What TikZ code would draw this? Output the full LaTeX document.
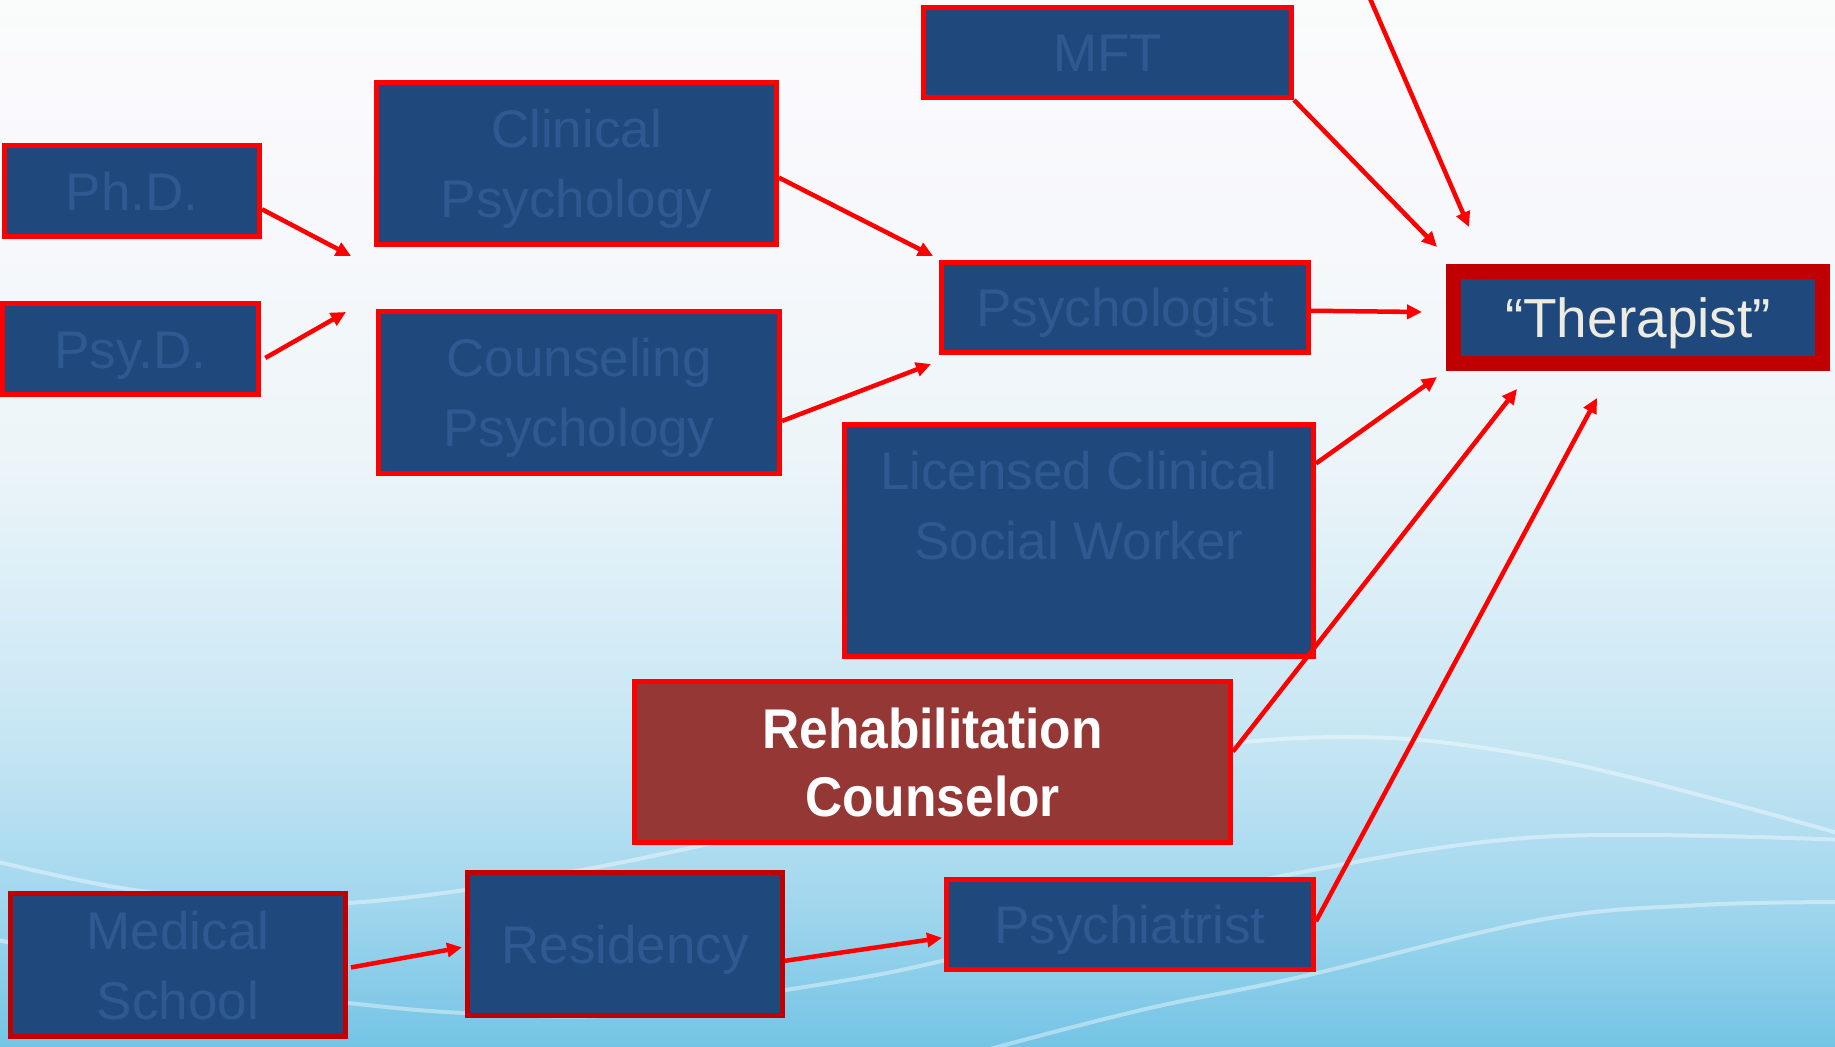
\documentclass[tikz,border=0pt]{standalone}
\usepackage{fontspec}
\setmainfont{Liberation Sans}
\newfontfamily\rehabfont[FakeStretch=0.92]{Liberation Sans}
\usetikzlibrary{arrows.meta}
\definecolor{boxblue}{HTML}{1F497D}
\definecolor{boxtext}{HTML}{2F5A91}
\definecolor{brdred}{HTML}{FF0000}
\definecolor{darkred}{HTML}{C00000}
\definecolor{rehabfill}{HTML}{953735}
\definecolor{thertext}{HTML}{EEECE1}
\definecolor{bgA}{HTML}{74C4E5}
\definecolor{bgB}{HTML}{A2D7EE}
\definecolor{bgC}{HTML}{C4E5F3}
\definecolor{bgD}{HTML}{DAEEF7}
\definecolor{bgE}{HTML}{EDF5F9}
\definecolor{bgF}{HTML}{F6F8FB}
\definecolor{bgG}{HTML}{FAF9FD}
\definecolor{bgH}{HTML}{F9FCFB}
\pgfdeclareverticalshading{bgsh}{100bp}{color(0bp)=(bgA); color(25bp)=(bgA); color(32bp)=(bgB); color(39.15bp)=(bgC); color(46.3bp)=(bgD); color(53.5bp)=(bgE); color(63bp)=(bgF); color(70.2bp)=(bgG); color(75bp)=(bgH); color(100bp)=(bgH)}
\begin{document}
\begin{tikzpicture}[x=1pt,y=-1pt,
  bluebox/.style={rectangle, draw=brdred, line width=5pt, fill=boxblue, text=boxtext,
    font=\fontsize{53}{70}\selectfont, align=center, inner sep=0pt,
    text height=38pt, text depth=0pt},
  twoline/.style={text height=108pt, text depth=0pt},
  threeline/.style={text height=108pt, text depth=70pt},
  darkbord/.style={draw=darkred},
  thbox/.style={rectangle, draw=darkred, line width=15pt, fill=boxblue, text=thertext,
    font=\fontsize{55}{70}\selectfont, inner sep=0pt, text height=39pt, text depth=0pt},
  rehabbox/.style={rectangle, draw=brdred, line width=5pt, fill=rehabfill, text=white,
    font=\rehabfont\fontsize{56}{68}\selectfont\bfseries, align=center, inner sep=0pt,
    text height=108pt, text depth=0pt},
  conn/.style={draw=brdred, line width=4.5pt, -{Triangle[length=15pt,width=14pt]}},
  bgline/.style={draw=white, opacity=0.4, line width=4pt}]
\useasboundingbox (0,0) rectangle (1835,1046);
\begin{scope}
\clip (0,0) rectangle (1835,1046);
\shade[shading=bgsh] (0,0) rectangle (1835,1046);
% faint background waves
\draw[bgline] plot[smooth, tension=0.6] coordinates {(-10,860) (115,887) (250,903) (348,903) (465,890) (587,869) (704,845) (1000,780) (1300,738) (1539,757) (1845,835)};
\draw[bgline] plot[smooth, tension=0.6] coordinates {(-10,938) (200,985) (348,1003) (465,1013) (620,1015) (786,990) (920,966) (1100,920) (1282,876) (1539,837) (1845,840)};
\draw[bgline] plot[smooth, tension=0.6] coordinates {(900,1075) (1001,1046) (1150,1008) (1300,977) (1539,920) (1700,905) (1845,902)};

% boxes
\node[bluebox, minimum width=368pt, minimum height=90pt] (mft) at (1107.5,52.5) {MFT};
\node[bluebox, twoline, minimum width=400pt, minimum height=162pt] (clin) at (576.5,163.5) {Clinical\\Psychology};
\node[bluebox, minimum width=255pt, minimum height=91pt] (phd) at (132,191) {Ph.D.};
\node[bluebox, minimum width=256pt, minimum height=91pt] (psyd) at (130.5,349) {Psy.D.};
\node[bluebox, twoline, minimum width=401pt, minimum height=162pt] (coun) at (579,392.5) {Counseling\\Psychology};
\node[bluebox, minimum width=367pt, minimum height=90pt] (psy) at (1125,307.5) {Psychologist};
\node[thbox, minimum width=369pt, minimum height=92pt] (ther) at (1638,317.5) {“Therapist”};
\node[bluebox, threeline, minimum width=469pt, minimum height=232pt] (lcsw) at (1079,540.5) {Licensed Clinical\\Social Worker};
\node[rehabbox, minimum width=596pt, minimum height=161pt] (rehab) at (932.5,762) {Rehabilitation\\Counselor};
\node[bluebox, darkbord, twoline, minimum width=335pt, minimum height=143pt] (med) at (178,965) {Medical\\School};
\node[bluebox, darkbord, minimum width=315pt, minimum height=143pt] (res) at (625,944) {Residency};
\node[bluebox, minimum width=367pt, minimum height=90pt] (psych) at (1130,924.5) {Psychiatrist};

% free arrow ends
\coordinate (ephd) at (351,256);
\coordinate (epsyd) at (346,312);
\coordinate (eclin) at (933,256);
\coordinate (ecoun) at (931,364);
\coordinate (topsrc) at (1362,-20);
\coordinate (etop) at (1469,227);
\coordinate (emft) at (1437,247);
\coordinate (epsy) at (1422,312);
\coordinate (elcsw) at (1437,377);
\coordinate (erehab) at (1517,389);
\coordinate (epsych) at (1597,398);

% connectors
\draw[conn] (phd.-8) -- (ephd);
\draw[conn, shorten <=5pt] (psyd.-5) -- (epsyd);
\draw[conn] (clin.-4) -- (eclin);
\draw[conn] (coun.-8.5) -- (ecoun);
\draw[conn] (topsrc) -- (etop);
\draw[conn] (mft.south east) -- (emft);
\draw[conn] (psy.-1.4) -- (epsy);
\draw[conn] (lcsw.18) -- (elcsw);
\draw[conn] (rehab.2.3) -- (erehab);
\draw[conn] (psych.1) -- (epsych);
\draw[conn, shorten <=3pt, shorten >=3pt] (med.-1) -- (res.181.4);
\draw[conn, shorten >=2pt] (res.-6) -- (psych.184.5);
\end{scope}
\end{tikzpicture}
\end{document}
